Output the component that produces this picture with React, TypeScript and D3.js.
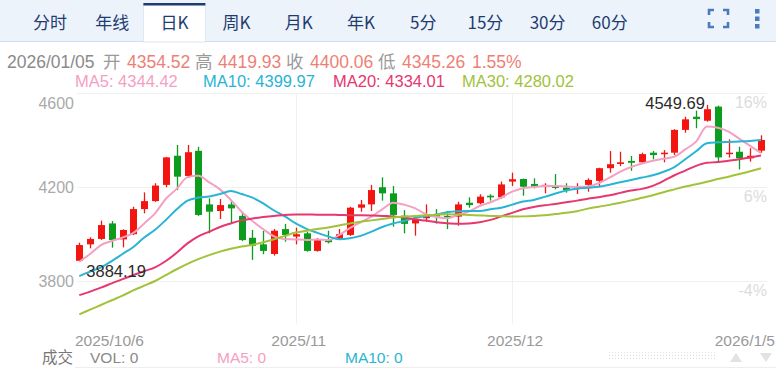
import { scaleLinear, line as d3Line, curveMonotoneX } from "d3";

// daily candles, 2025/10/6 .. 2026/1/5
const opens = [3886,3956,3979,4045,3977,3999,4106,4140,4209,4333,4247,4354,4126,4098,4126,4077,3984,3956,3915,4021,3989,4003,3928,3974,3979,3996,4112,4126,4199,4173,4078,4045,4067,4081,4077,4074,4133,4131,4163,4156,4223,4234,4213,4201,4204,4197,4194,4209,4226,4280,4298,4311,4305,4346,4340,4346,4443,4499,4482,4542,4340,4350,4322,4354.52];
const highs = [3963,3986,4057,4055,4020,4116,4177,4216,4328,4379,4379,4371,4152,4149,4140,4091,4017,4013,4021,4043,4027,4010,3983,4014,4021,4116,4145,4209,4241,4204,4102,4067,4126,4106,4098,4137,4156,4169,4169,4223,4261,4236,4237,4216,4255,4216,4216,4237,4282,4353,4350,4332,4346,4353,4357,4446,4499,4525,4549.69,4546,4403,4371,4365,4419.93];
const lows = [3884.19,3939,3975,3942,3943,3995,4088,4137,4199,4187,4238,4077,4003,4064,4045,3970,3890,3914,3908,3967,3956,3925,3925,3960,3975,3992,4095,4098,4142,4031,4003,3993,4052,4045,4021,4035,4112,4126,4142,4150,4204,4163,4194,4173,4190,4176,4170,4180,4204,4261,4289,4269,4301,4318,4305,4336,4431,4450,4478,4303,4325,4275,4308,4345.26];
const closes = [3953,3979,4038,3974,4017,4106,4140,4206,4326,4244,4348,4081,4095,4123,4109,3974,3950,3928,4014,3996,3999,3928,3974,3965,3999,4112,4126,4187,4173,4081,4043,4060,4077,4074,4069,4126,4123,4159,4156,4211,4233,4201,4201,4209,4196,4187,4201,4230,4280,4297,4305,4303,4340,4336,4346,4443,4488,4489,4531,4326,4346,4322,4332.9,4400.06];

const ma5 = [3882,3915,3953,3970,3985,4005,4045,4088,4150,4192,4242,4248,4220,4190,4145,4095,4055,4020,3990,3978,3977,3975,3977,3974,3995,4025,4050,4074,4105,4133,4125,4110,4085,4072,4067,4082,4095,4119,4135,4155,4180,4195,4200,4204,4204,4202,4200,4202,4216,4240,4265,4285,4300,4312,4320,4329,4360,4393,4457,4452,4436,4405,4375,4344.42];
const ma10 = [3821,3840,3858,3885,3915,3945,3985,4018,4060,4105,4142,4155,4160,4170,4183,4170,4155,4130,4100,4075,4045,4022,4005,3990,3978,3982,3992,4010,4030,4045,4055,4068,4076,4083,4093,4097,4098,4098,4105,4112,4125,4138,4145,4158,4172,4185,4193,4197,4201,4210,4220,4230,4240,4250,4265,4285,4318,4352,4386,4390,4392,4394,4396,4399.97];
const ma20 = [3740,3755,3772,3790,3808,3825,3842,3858,3885,3920,3960,3990,4010,4030,4045,4058,4066,4072,4077,4081,4083,4083,4082,4082,4081,4080,4080,4079,4077,4075,4070,4063,4057,4050,4046,4044,4045,4050,4060,4075,4090,4105,4115,4122,4128,4135,4142,4150,4156,4165,4175,4185,4192,4205,4226,4250,4270,4290,4303,4306,4312,4318,4326,4334.01];
const ma30 = [3658,3678,3698,3718,3738,3760,3780,3800,3825,3850,3873,3893,3910,3925,3937,3947,3954,3965,3978,3992,4006,4014,4021,4028,4036,4045,4052,4058,4064,4070,4074,4077,4080,4082,4084,4083,4081,4079,4077,4076,4074,4075,4077,4080,4085,4090,4097,4108,4116,4124,4133,4143,4154,4165,4178,4190,4202,4212,4222,4234,4244,4255,4267,4280.02];

const priceTicks = [4600, 4200, 3800];
const pctTicks = [16, 6, -4];
const dateLabels = ["2025/10/6", "2025/11", "2025/12", "2026/1/5"];
const dateIndex = [0, 20, 40, 63];
const tabs = ["分时", "年线", "日K", "周K", "月K", "年K", "5分", "15分", "30分", "60分"];
const activeTab = 2;
const lastDate = "2026/01/05";

const RED = "#f3150f";
const GREEN = "#0c9d1f";
const NAVY = "#1f3c70";
const SALMON = "#ee7f76";
const FONT = "'Liberation Sans', Arial, 'Noto Sans CJK SC', sans-serif";
const CJK = "'Noto Sans CJK SC', 'Liberation Sans', sans-serif";

const maSeries = [
  { name: "MA5", data: ma5, color: "#f4a0c3", lx: 75 },
  { name: "MA10", data: ma10, color: "#2ab4d4", lx: 203 },
  { name: "MA20", data: ma20, color: "#e6376f", lx: 333 },
  { name: "MA30", data: ma30, color: "#a2c23a", lx: 462 },
];

export default function App() {
  const width = 776;
  const height = 368;
  const left = 77;
  const right = 767;
  const top = 93;
  const bottom = 324;

  const x = scaleLinear().domain([0, closes.length - 1]).range([79.3, 761]);
  const y = scaleLinear().domain([3800, 4600]).range([281, 93]);
  const yPct = scaleLinear().domain([-4, 16]).range([281, 93]);
  const tabX = scaleLinear().domain([0, tabs.length - 1]).range([50, 609.8]);

  const line = d3Line<number>()
    .x((_, i) => x(i))
    .y((d) => y(d))
    .curve(curveMonotoneX);

  const n = closes.length;
  const last = n - 1;
  const pct = ((closes[last] / closes[last - 1] - 1) * 100).toFixed(2) + "%";

  // extremes
  let maxI = 0;
  let minI = 0;
  highs.forEach((h, i) => { if (h > highs[maxI]) maxI = i; });
  lows.forEach((l, i) => { if (l < lows[minI]) minI = i; });

  const info = [
    { t: lastDate, x: 7, c: "#8a8a8a" },
    { t: "开", x: 103, c: "#9a9a9a", cjk: true },
    { t: opens[last].toFixed(2), x: 127, c: SALMON },
    { t: "高", x: 195, c: "#9a9a9a", cjk: true },
    { t: highs[last].toFixed(2), x: 218, c: SALMON },
    { t: "收", x: 286, c: "#9a9a9a", cjk: true },
    { t: closes[last].toFixed(2), x: 310, c: SALMON },
    { t: "低", x: 378, c: "#9a9a9a", cjk: true },
    { t: lows[last].toFixed(2), x: 402, c: SALMON },
    { t: pct, x: 472, c: SALMON },
  ];

  return (
    <svg
      width={width}
      height={height}
      style={{ position: "absolute", left: 0, top: 0, background: "#fff" }}
      fontFamily={FONT}
    >
      {/* tab bar */}
      <rect x={0} y={0} width={width} height={41} fill="#edf3fb" />
      <line x1={0} x2={width} y1={41.5} y2={41.5} stroke="#d3deec" />
      <rect x={tabX(activeTab) - 31} y={4} width={62} height={38} fill="#fff" stroke="#dde5f0" />
      <rect x={tabX(activeTab) - 31} y={3} width={62} height={2.5} fill={NAVY} />
      {tabs.map((t, i) => (
        <text key={t} x={tabX(i)} y={29} textAnchor="middle" fontSize={17} fill={NAVY} fontFamily={CJK}>
          {t}
        </text>
      ))}
      {/* fullscreen icon */}
      <g stroke="#4b7bbd" strokeWidth={2.6} fill="none">
        <path d="M709,15 V10 H714" />
        <path d="M723,10 H728 V15" />
        <path d="M709,22 V27 H714" />
        <path d="M723,27 H728 V22" />
      </g>
      <g fill="#4b7bbd">
        <rect x={755} y={9} width={4.5} height={4.5} />
        <rect x={755} y={16.5} width={4.5} height={4.5} />
        <rect x={755} y={24} width={4.5} height={4.5} />
      </g>

      {/* info line */}
      {info.map((d, i) => (
        <text key={i} x={d.x} y={68} fontSize={17.5} fill={d.c} fontFamily={d.cjk ? CJK : FONT}>
          {d.t}
        </text>
      ))}

      {/* MA legend */}
      {maSeries.map((s) => (
        <text key={s.name} x={s.lx} y={87} fontSize={16.5} fill={s.color}>
          {s.name}: {s.data[last].toFixed(2)}
        </text>
      ))}

      {/* grid */}
      {priceTicks.map((p) => (
        <line key={p} x1={left} x2={right} y1={Math.round(y(p)) + 0.5} y2={Math.round(y(p)) + 0.5} stroke="#f0f0f0" />
      ))}
      {dateIndex.slice(1, 3).map((di) => (
        <line key={di} x1={Math.round(x(di)) + 0.5} x2={Math.round(x(di)) + 0.5} y1={top} y2={bottom} stroke="#f0f0f0" />
      ))}

      {/* left axis */}
      {priceTicks.map((p, i) => (
        <text key={p} x={74} y={i === 0 ? y(p) + 15.5 : y(p) + 6} textAnchor="end" fontSize={16} fill="#aaaaaa">
          {p}
        </text>
      ))}
      {/* right axis */}
      {pctTicks.map((p) => (
        <text key={p} x={767} y={yPct(p) + 15} textAnchor="end" fontSize={16} fill="#dcdcdc">
          {p}%
        </text>
      ))}

      {/* candles */}
      {closes.map((c, i) => {
        const o = opens[i];
        const up = c >= o;
        const col = up ? RED : GREEN;
        const cx = Math.round(x(i)) + 0.5;
        const yTop = y(Math.max(o, c));
        const yBot = y(Math.min(o, c));
        return (
          <g key={i}>
            <line x1={cx} x2={cx} y1={y(highs[i])} y2={y(lows[i])} stroke={col} strokeWidth={1.3} />
            <rect x={cx - 3.5} y={yTop} width={7} height={Math.max(1.5, yBot - yTop)} fill={col} />
          </g>
        );
      })}

      {/* moving averages */}
      {maSeries.map((s) => (
        <path key={s.name} d={line(s.data) || ""} fill="none" stroke={s.color} strokeWidth={2} />
      ))}

      {/* extremes */}
      <text x={x(minI) + 7} y={y(lows[minI]) + 16} fontSize={16.5} fill="#2a2a2a">
        {lows[minI].toFixed(2)}
      </text>
      <text x={x(maxI) - 2} y={y(highs[maxI]) + 4} textAnchor="end" fontSize={16.5} fill="#2a2a2a">
        {highs[maxI].toFixed(2)}
      </text>

      {/* date axis */}
      {dateLabels.map((d, i) => {
        const di = dateIndex[i];
        const anchor = i === 0 ? "start" : i === dateLabels.length - 1 ? "end" : "middle";
        const tx = i === 0 ? 75 : i === dateLabels.length - 1 ? 775 : x(di) + 3;
        return (
          <text key={d} x={tx} y={345.5} textAnchor={anchor} fontSize={15.5} fill="#999999">
            {d}
          </text>
        );
      })}

      {/* volume legend row */}
      <text x={42} y={363} fontSize={15.5} fill="#777" fontFamily={CJK}>成交</text>
      <text x={90} y={363} fontSize={15.5} fill="#8a8a8a">VOL: 0</text>
      <text x={217} y={363} fontSize={15.5} fill="#f4a0c3">MA5: 0</text>
      <text x={345} y={363} fontSize={15.5} fill="#2ab4d4">MA10: 0</text>
      <g stroke="#dddddd" strokeDasharray="1,2">
        <line x1={609} x2={717} y1={352.5} y2={352.5} />
        <line x1={609} x2={717} y1={355.5} y2={355.5} />
        <line x1={609} x2={717} y1={358.5} y2={358.5} />
      </g>
      <path d="M730,362 L736,353 L742,362 Z" fill="#e2e2e2" />
      <path d="M760,353 L772,353 L766,362 Z" fill="#e2e2e2" />
      <line x1={75} x2={width} y1={367.5} y2={367.5} stroke="#eeeeee" />
    </svg>
  );
}
